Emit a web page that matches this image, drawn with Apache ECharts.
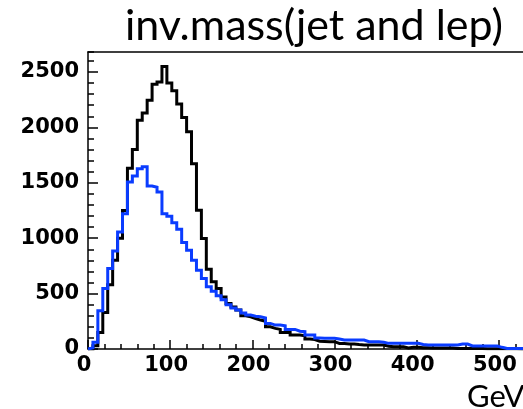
<!DOCTYPE html>
<html><head><meta charset="utf-8">
<script src="https://cdn.jsdelivr.net/npm/echarts@6/dist/echarts.min.js"></script>
<style>html,body{margin:0;padding:0;background:#fff}#c{width:523px;height:409px}</style>
</head><body><div id="c"></div>
<script>
// histogram: 100 bins of 6 GeV from 0 to 600 GeV
const binWidth = 6;
const xMin = 0, xMax = 600, xStep = 100;
const yMin = 0, yMax = 2680, yStep = 500;
const titleText = 'inv.mass(jet and lep)';
const xUnit = 'GeV';

const blackCounts = [
  0, 30, 150, 330, 580, 800, 1000, 1250, 1630, 1800,
  2065, 2130, 2245, 2390, 2410, 2550, 2400, 2330, 2210, 2090,
  1960, 1671, 1251, 996, 720, 606, 546, 470, 411, 380,
  351, 300, 291, 275, 261, 250, 200, 186, 177, 150,
  150, 126, 126, 120, 90, 85, 70, 68, 66, 66,
  50, 50, 45, 45, 40, 36, 36, 36, 36, 36,
  25, 21, 21, 20, 10, 15, 15, 12, 12, 10,
  10, 10, 10, 8, 5, 5, 5, 4, 4, 4,
  3, 3, 3, 2, 2, 2, 2, 1, 1, 1,
  1, 1, 1, 1, 0, 1, 0, 0, 0, 0
];
const blueCounts = [
  10, 60, 345, 547, 727, 885, 1056, 1220, 1506, 1560,
  1626, 1645, 1470, 1460, 1416, 1221, 1197, 1140, 1080, 960,
  890, 800, 710, 636, 561, 520, 480, 445, 400, 370,
  351, 325, 306, 295, 291, 280, 231, 216, 216, 210,
  177, 177, 160, 156, 126, 126, 100, 96, 96, 96,
  90, 81, 81, 81, 81, 81, 66, 66, 66, 60,
  51, 51, 51, 51, 51, 51, 51, 40, 36, 36,
  36, 36, 36, 36, 36, 45, 45, 28, 27, 27,
  27, 27, 27, 15, 5, 5, 5, 5, 5, 5,
  5, 5, 5, 5, 5, 5, 5, 5, 5, 5
];

function steps(counts) {
  const d = [[0, 0]];
  counts.forEach((v, i) => d.push([i * binWidth, v]));
  d.push([counts.length * binWidth, counts[counts.length - 1]]);
  return d;
}

const labelFont = {fontFamily: 'DejaVu Sans', fontWeight: 'bold', fontSize: 21, color: '#000'};
const lineStyle = {color: '#000', width: 1.5};

const chart = echarts.init(document.getElementById('c'), null, {renderer: 'canvas'});
chart.setOption({
  animation: false,
  backgroundColor: '#fff',
  title: [
    {text: titleText, left: 125, top: 5, padding: 0,
     textStyle: {fontFamily: 'Lato', fontSize: 43, fontWeight: 'normal', color: '#000'}},
    {text: xUnit, left: 467, top: 381, padding: 0,
     textStyle: {fontFamily: 'Lato', fontSize: 31, fontWeight: 'normal', color: '#000'}}
  ],
  grid: {left: 88, top: 52, right: -58, bottom: 60, outerBoundsMode: 'none', containLabel: false},
  xAxis: [
    {type: 'value', min: xMin, max: xMax, interval: xStep,
     axisLine: {show: true, lineStyle: lineStyle},
     axisTick: {show: true, inside: true, length: 9, lineStyle: lineStyle},
     minorTick: {show: true, splitNumber: 5, length: 5, lineStyle: lineStyle},
     splitLine: {show: false}, minorSplitLine: {show: false},
     axisLabel: Object.assign({margin: 6, padding: [0, 8, 0, 0]}, labelFont)},
    {type: 'value', position: 'top', min: xMin, max: xMax,
     axisLine: {show: true, onZero: false, lineStyle: lineStyle},
     axisTick: {show: false}, axisLabel: {show: false}, splitLine: {show: false}}
  ],
  yAxis: [
    {type: 'value', min: yMin, max: yMax, interval: yStep,
     axisLine: {show: true, lineStyle: lineStyle},
     axisTick: {show: true, inside: true, length: 10, lineStyle: lineStyle},
     splitLine: {show: false},
     axisLabel: Object.assign({margin: 9, showMaxLabel: false,
       formatter: v => (v % yStep === 0 ? String(v) : '')}, labelFont)},
    {type: 'value', position: 'left', min: yMin, max: yMax, interval: 100,
     axisLine: {show: false},
     axisTick: {show: true, inside: true, length: 6, lineStyle: lineStyle},
     axisLabel: {show: false}, splitLine: {show: false}}
  ],
  series: [
    {type: 'line', step: 'end', data: steps(blackCounts), showSymbol: false,
     lineStyle: {color: '#000', width: 3, join: 'miter'}, z: 3},
    {type: 'line', step: 'end', data: steps(blueCounts), showSymbol: false,
     lineStyle: {color: '#0a3cff', width: 3, join: 'miter'}, z: 4}
  ]
});
</script></body></html>
